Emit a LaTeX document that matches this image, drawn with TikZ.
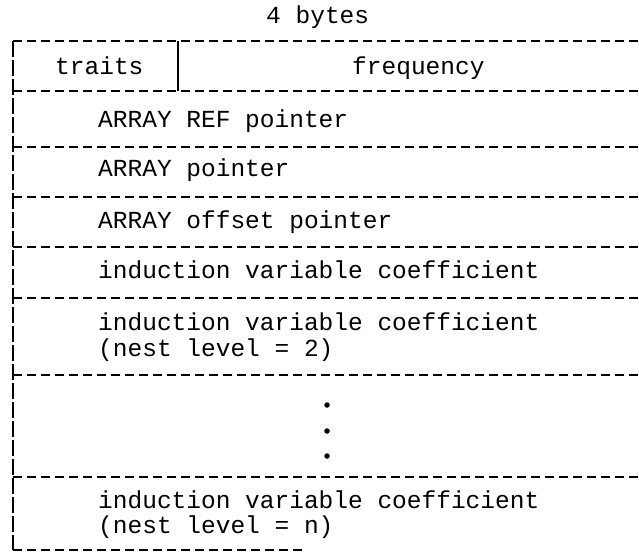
\documentclass[tikz,border=0pt]{standalone}
\usepackage{fontspec}
\setmainfont{Liberation Mono}
\begin{document}
\begin{tikzpicture}[x=1pt,y=-1pt,
  rule/.style={line width=2.3pt,dash pattern=on 9pt off 5pt},
  side/.style={line width=2.6pt,dash pattern=on 16pt off 3pt},
  lbl/.style={anchor=base west,inner sep=0pt,font=\fontsize{24.5}{26}\selectfont},
  dotmark/.style={circle,fill,inner sep=0pt,minimum size=5.5pt}]
\useasboundingbox (0,0) rectangle (639,554);
\node[lbl] (title) at (266,23) {4 bytes};
% horizontal rules
\draw[rule] (13,41) -- (639,41);
\draw[rule] (13,91) -- (639,91);
\draw[rule] (13,147) -- (639,147);
\draw[rule] (13,197) -- (639,197);
\draw[rule] (13,247) -- (639,247);
\draw[rule] (13,298) -- (639,298);
\draw[rule] (13,375) -- (639,375);
\draw[rule] (13,477) -- (639,477);
\draw[rule] (13,550) -- (305,550);
% left border and divider
\draw[side] (13,41) -- (13,550);
\draw[line width=2.4pt] (178,41) -- (178,91);
% texts
\node[lbl] (traits) at (55,74) {traits};
\node[lbl] (freq) at (352,74) {frequency};
\node[lbl] (aref) at (98,127) {ARRAY REF pointer};
\node[lbl] (aptr) at (98,176) {ARRAY pointer};
\node[lbl] (aoff) at (98,228) {ARRAY offset pointer};
\node[lbl] (ivc1) at (98,278) {induction variable coefficient};
\node[lbl] (ivc2) at (98,330) {induction variable coefficient};
\node[lbl] (nl2) at (98,356) {(nest level = 2)};
\node[dotmark] (d1) at (327,405) {};
\node[dotmark] (d2) at (327,431) {};
\node[dotmark] (d3) at (327,456) {};
\node[lbl] (ivcn) at (98,508) {induction variable coefficient};
\node[lbl] (nln) at (98,533) {(nest level = n)};
\end{tikzpicture}
\end{document}
